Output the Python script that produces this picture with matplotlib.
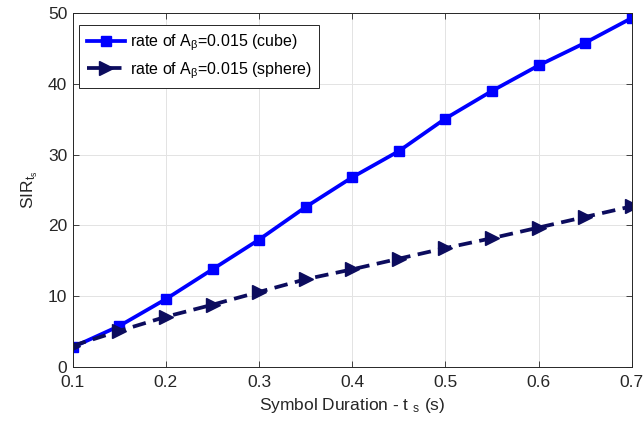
import matplotlib
matplotlib.use("Agg")
import matplotlib.pyplot as plt

plt.rcParams['font.family'] = ['Liberation Sans', 'DejaVu Sans']
plt.rcParams['mathtext.default'] = 'regular'

# symbol durations (s)
ts = [0.1, 0.15, 0.2, 0.25, 0.3, 0.35, 0.4, 0.45, 0.5, 0.55, 0.6, 0.65, 0.7]
# SIR for each receiver shape
sir_cube = [2.8, 5.8, 9.6, 13.8, 18.0, 22.6, 26.8, 30.5, 35.1, 39.0, 42.6, 45.8, 49.3]
sir_sphere = [3.0, 5.1, 7.1, 8.8, 10.6, 12.4, 13.8, 15.3, 16.8, 18.2, 19.7, 21.2, 22.7]

fig = plt.figure(figsize=(6.44, 4.28), dpi=100)
ax = fig.add_axes([0.113, 0.1425, 0.868, 0.827])

ax.plot(ts, sir_cube, color='#0000ff', lw=2.7, marker='s', ms=7.5,
        label=r'rate of A$_\beta$=0.015 (cube)')
ax.plot(ts, sir_sphere, color='#0c0c5e', lw=2.7, ls=(0, (3.6, 2.0)), marker='>', ms=9.5,
        label=r'rate of A$_\beta$=0.015 (sphere)')

ax.set_xlim(0.1, 0.7)
ax.set_ylim(0, 50)
ax.set_xticks([0.1, 0.2, 0.3, 0.4, 0.5, 0.6, 0.7])
ax.set_yticks([0, 10, 20, 30, 40, 50])
ax.tick_params(direction='in', top=True, right=True, labelsize=12.5, colors='#262626',
               length=4, width=0.6)
ax.tick_params(axis='x', pad=6)
ax.tick_params(axis='y', pad=4)
for s in ax.spines.values():
    s.set_color('#262626')
    s.set_linewidth(0.7)
ax.grid(True, color='#e3e3e3', lw=0.7)

ax.set_xlabel('Symbol Duration - t $_s$ (s)', fontsize=12.5, color='#262626', labelpad=4)
ax.set_ylabel('SIR$_{t_s}$', fontsize=12.5, color='#262626', labelpad=6)

leg = ax.legend(loc='upper left', fontsize=11.5, handlelength=2.4, handletextpad=0.3,
                borderpad=0.45, labelspacing=0.45, borderaxespad=0,
                fancybox=False, edgecolor='#262626', framealpha=1,
                bbox_to_anchor=(0.012, 0.966))
leg.get_frame().set_linewidth(0.7)

fig.savefig('out.png', dpi=100)
